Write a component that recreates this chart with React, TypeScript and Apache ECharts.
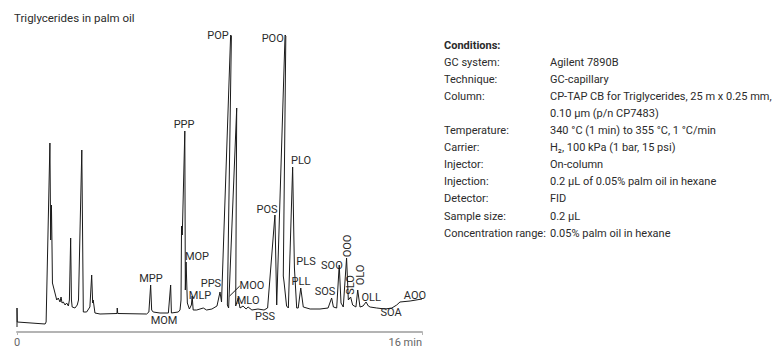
import React, { useEffect, useRef } from "react";
import * as echarts from "echarts";

const title = "Triglycerides in palm oil";

// Chromatogram trace: [retention time (min), detector signal]
const trace: [number, number][] = [
  [0, 5], [0, 24], [0.01, 10], [1.11, 8], [1.15, 10],
  [1.3, 189], [1.33, 92], [1.36, 127], [1.38, 92], [1.4, 49], [1.5, 39],
  [1.57, 32], [1.63, 34], [1.7, 30], [1.74, 35], [1.78, 29], [1.83, 30],
  [1.9, 27], [1.96, 29], [2.03, 26], [2.07, 32], [2.12, 94], [2.15, 32],
  [2.18, 25], [2.29, 24], [2.38, 27], [2.43, 32], [2.56, 182], [2.62, 20],
  [2.75, 20], [2.88, 25], [2.95, 57], [2.99, 29], [3.01, 32], [3.08, 19],
  [3.28, 18], [3.95, 18.5], [3.96, 24], [3.98, 18.5], [5.12, 18], [5.21, 20],
  [5.28, 47], [5.32, 22], [5.38, 20], [5.65, 19], [5.98, 19], [6.07, 47],
  [6.1, 19], [6.37, 20], [6.44, 22], [6.48, 32], [6.5, 106], [6.53, 97],
  [6.63, 201], [6.65, 42], [6.68, 70], [6.73, 29], [6.81, 23], [6.89, 27],
  [6.92, 36], [6.96, 22], [7.1, 22], [7.36, 24], [7.49, 22], [7.7, 23],
  [7.9, 26], [8.02, 40], [8.08, 30], [8.44, 297], [8.47, 296], [8.31, 27],
  [8.36, 24], [8.68, 224], [8.64, 26], [8.74, 34], [8.81, 24], [8.93, 26],
  [9.05, 23], [9.13, 25], [9.28, 22], [9.52, 23], [9.76, 22], [9.9, 24],
  [10.19, 117], [10.26, 27], [10.59, 297], [10.62, 296], [10.52, 56],
  [10.55, 50], [10.65, 26], [10.72, 24], [10.89, 165], [10.94, 92],
  [10.96, 64], [11.05, 24], [11.11, 24], [11.21, 44], [11.31, 25],
  [11.58, 23], [11.97, 23], [12.29, 24], [12.43, 34], [12.5, 25], [12.63, 24],
  [12.73, 67], [12.8, 29], [12.89, 25], [13.02, 74], [13.09, 32], [13.18, 35],
  [13.26, 27], [13.39, 25], [13.46, 42], [13.55, 25], [13.67, 26], [13.79, 30],
  [13.88, 26], [13.95, 25], [14.21, 24], [14.54, 23], [14.81, 24], [15.0, 27],
  [15.13, 30], [15.53, 31], [16.0, 33],
];

// Peak labels: name, time, signal, rotated
const peakNames = [
  "PPP", "POP", "POO", "PLO", "POS", "MOP", "MPP", "PPS", "MOO", "MLP", "MLO",
  "MOM", "PSS", "PLS", "PLL", "SOS", "SOO", "OOO", "SLO", "OLO", "OLL", "SOA", "AOO",
];
const peakLabelTimes = [
  6.6, 7.94, 10.1, 11.22, 9.88, 7.11, 5.29, 7.66, 9.28, 7.23, 9.13,
  5.81, 9.8, 11.42, 11.22, 12.17, 12.44, 13.04, 13.19, 13.56, 13.99, 14.78, 15.72,
];
const peakLabelSignals = [
  208, 297, 294, 172, 123, 76, 54, 49, 47, 37, 32,
  12, 16, 71, 51, 41, 67, 86, 47, 57, 35, 20, 37,
];
const peakLabelRotated = [
  false, false, false, false, false, false, false, false, false, false, false,
  false, false, false, false, false, false, true, true, true, false, false, false,
];
const mooLeader: [number, number][] = [[8.4, 36], [8.8, 46]];

const xTicks = [0, 16];

const conditionLabels = [
  "GC system:", "Technique:", "Column:", "", "Temperature:", "Carrier:",
  "Injector:", "Injection:", "Detector:", "Sample size:", "Concentration range:",
];
const conditionValues = [
  "Agilent 7890B", "GC-capillary", "CP-TAP CB for Triglycerides, 25 m x 0.25 mm,",
  "0.10 µm (p/n CP7483)", "340 °C (1 min) to 355 °C, 1 °C/min",
  "H₂, 100 kPa (1 bar, 15 psi)", "On-column", "0.2 µL of 0.05% palm oil in hexane",
  "FID", "0.2 µL", "0.05% palm oil in hexane",
];

const FONT = "Roboto, 'Liberation Sans', Arial, sans-serif";
const TEXT = "#2b2b2b";

export default function App() {
  const ref = useRef<HTMLDivElement>(null);
  useEffect(() => {
    if (!ref.current) return;
    const chart = echarts.init(ref.current, undefined, { renderer: "svg" });

    const graphics: any[] = [
      {
        type: "text",
        style: { text: title, x: 14, y: 18, font: `11.5px ${FONT}`, fill: TEXT, verticalAlign: "middle", textVerticalAlign: "middle" },
      },
      {
        type: "text",
        style: { text: "Conditions:", x: 444, y: 45, font: `bold 11px ${FONT}`, fill: TEXT, verticalAlign: "middle", textVerticalAlign: "middle" },
      },
    ];
    const rowStep = 17.1;
    conditionLabels.forEach((lab, i) => {
      const y = 45 + rowStep * (i + 1);
      if (lab) {
        graphics.push({
          type: "text",
          style: { text: lab, x: 444, y, font: `11px ${FONT}`, fill: TEXT, verticalAlign: "middle", textVerticalAlign: "middle" },
        });
      }
      graphics.push({
        type: "text",
        style: { text: conditionValues[i], x: 550, y, font: `11px ${FONT}`, fill: TEXT, verticalAlign: "middle", textVerticalAlign: "middle" },
      });
    });

    const labelData = peakNames.map((n, i) => ({
      name: n,
      value: [peakLabelTimes[i], peakLabelSignals[i]],
      label: peakLabelRotated[i] ? { rotate: 90 } : {},
    }));

    chart.setOption({
      animation: false,
      grid: { left: 17, right: 355, top: 32, bottom: 22, containLabel: false },
      xAxis: {
        type: "value",
        min: xTicks[0],
        max: xTicks[1],
        interval: xTicks[1] - xTicks[0],
        axisLine: { lineStyle: { color: "#b4b4b4", width: 2 } },
        axisTick: { show: true, length: 3, lineStyle: { color: "#b4b4b4" } },
        splitLine: { show: false },
        axisLabel: {
          color: "#666666",
          fontSize: 11,
          fontFamily: FONT,
          margin: 5,
          alignMaxLabel: "right",
          formatter: (v: number) => (v === xTicks[1] ? `${v} min` : String(v)),
        },
      },
      yAxis: { type: "value", min: 0, max: 300, show: false },
      graphic: graphics,
      series: [
        {
          type: "line",
          data: trace,
          showSymbol: false,
          symbol: "none",
          lineStyle: { color: "#1a1a1a", width: 1 },
          clip: false,
          markLine: {
            silent: true,
            symbol: "none",
            label: { show: false },
            lineStyle: { color: "#1a1a1a", width: 1, type: "solid" },
            data: [[{ coord: mooLeader[0] }, { coord: mooLeader[1] }]],
          },
        },
        {
          type: "scatter",
          data: labelData,
          symbolSize: 1,
          itemStyle: { color: "rgba(0,0,0,0)", opacity: 1 },
          silent: true,
          label: {
            show: true,
            position: "inside",
            formatter: "{b}",
            color: TEXT,
            opacity: 1,
            textBorderWidth: 0,
            fontSize: 11,
            fontFamily: FONT,
          },
        },
      ],
    });
    return () => chart.dispose();
  }, []);

  return (
    <div
      ref={ref}
      style={{ position: "fixed", left: 0, top: 0, width: 777, height: 354, background: "#fff" }}
    />
  );
}
